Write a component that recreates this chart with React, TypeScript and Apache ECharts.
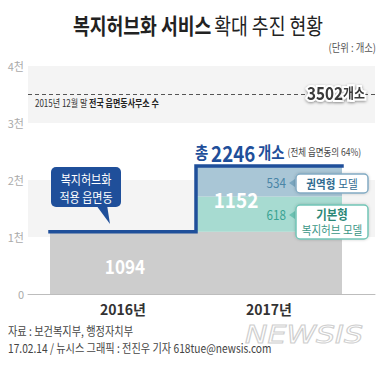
import React, { useEffect, useRef } from "react";
import * as echarts from "echarts";

const categories = ["2016년", "2017년"];
const baseValues = [1094, 1094];
const basicModel = [null, 618];
const regionalModel = [null, 534];
const nationalOffices = 3502;
const yTicks = [0, 1000, 2000, 3000, 4000];
const yTickLabels = ["0", "1천", "2천", "3천", "4천"];

const FONT = "Noto Sans CJK KR";

export default function App() {
  const ref = useRef<HTMLDivElement>(null);
  useEffect(() => {
    if (!ref.current) return;
    const chart = echarts.init(ref.current, null, { renderer: "svg" });
    const totals = categories.map(
      (_, i) => (baseValues[i] || 0) + (basicModel[i] || 0) + (regionalModel[i] || 0)
    );
    const stepData = [
      [0, totals[0]],
      [1, totals[0]],
      [1, totals[1]],
      [2, totals[1]],
    ];
    const addon = totals[1] - totals[0];
    const txt = (o: any) => ({ type: "text", z: 100, ...o });
    const outlined = (size: number) => ({
      fontSize: size,
      fontWeight: "bold",
      fill: "#3a3a3a",
      stroke: "#fff",
      lineWidth: 4,
      fontFamily: FONT,
      textShadowColor: "rgba(0,0,0,0.45)",
      textShadowBlur: 3,
      textShadowOffsetY: 1,
    });
    chart.setOption({
      animation: false,
      grid: [
        { left: 28, right: 15, top: 66, bottom: 76 },
        { left: 50, right: 48, top: 66, bottom: 76 },
      ],
      xAxis: [
        {
          gridIndex: 0,
          type: "value",
          min: 0,
          max: 1,
          axisLine: { show: true, lineStyle: { color: "#bdbdbd", width: 1 } },
          axisTick: { show: false },
          axisLabel: { show: false },
          splitLine: { show: false },
        },
        {
          gridIndex: 1,
          type: "category",
          data: categories,
          axisLine: { show: false },
          axisTick: { show: false },
          axisLabel: {
            color: "#333",
            fontSize: 14,
            fontWeight: "bold",
            fontFamily: FONT,
            margin: 8,
          },
        },
        {
          gridIndex: 1,
          type: "value",
          min: 0,
          max: 2,
          show: false,
        },
      ],
      yAxis: [
        {
          gridIndex: 0,
          type: "value",
          min: 0,
          max: 4000,
          interval: 1000,
          axisLine: { show: false },
          axisTick: { show: false },
          axisLabel: {
            color: "#aaa",
            fontSize: 11,
            fontFamily: FONT,
            margin: 4,
            formatter: (v: number) => yTickLabels[yTicks.indexOf(v)] ?? "",
          },
          splitLine: { show: false },
          splitArea: { show: true, areaStyle: { color: ["#ffffff", "#f4f4f4"] } },
        },
        { gridIndex: 1, type: "value", min: 0, max: 4000, show: false },
      ],
      series: [
        {
          type: "line",
          xAxisIndex: 0,
          yAxisIndex: 0,
          data: [],
          markLine: {
            silent: true,
            symbol: ["none", "none"],
            label: { show: false },
            lineStyle: { color: "#555", type: [4, 3], width: 1 },
            data: [{ yAxis: nationalOffices }],
          },
        },
        {
          type: "bar",
          xAxisIndex: 1,
          yAxisIndex: 1,
          stack: "t",
          barCategoryGap: "0%",
          data: baseValues,
          itemStyle: { color: "#cdcdcd" },
        },
        {
          type: "bar",
          xAxisIndex: 1,
          yAxisIndex: 1,
          stack: "t",
          data: basicModel,
          itemStyle: { color: "#a7dbd1" },
        },
        {
          type: "bar",
          xAxisIndex: 1,
          yAxisIndex: 1,
          stack: "t",
          data: regionalModel,
          itemStyle: { color: "#a9c6d6" },
        },
        {
          type: "line",
          xAxisIndex: 2,
          yAxisIndex: 1,
          data: stepData,
          symbol: "none",
          lineStyle: { color: "#1f4f9a", width: 3.5, cap: "square", join: "miter" },
          z: 10,
        },
      ],
      graphic: [
        txt({
          x: 198,
          y: 25,
          scaleX: 0.83,
          style: {
            text: "{b|복지허브화 서비스} {n|확대 추진 현황}",
            textAlign: "center",
            textVerticalAlign: "middle",
            rich: {
              b: { fontSize: 22, fontWeight: "bold", fill: "#222", fontFamily: FONT },
              n: { fontSize: 22, fill: "#222", fontFamily: FONT },
            },
          },
        }),
        txt({
          x: 376,
          y: 47,
          scaleX: 0.85,
          style: {
            text: "(단위 : 개소)",
            textAlign: "right",
            textVerticalAlign: "middle",
            fontSize: 11,
            fill: "#555",
            fontFamily: FONT,
          },
        }),
        txt({
          x: 35,
          y: 103,
          scaleX: 0.8,
          style: {
            text: "2015년 12월 말 {b|전국 읍면동사무소 수}",
            textVerticalAlign: "middle",
            fontSize: 10,
            fill: "#333",
            fontFamily: FONT,
            rich: { b: { fontSize: 10, fill: "#222", fontWeight: "bold", fontFamily: FONT } },
          },
        }),
        txt({
          x: 336,
          y: 92,
          scaleX: 0.85,
          style: {
            text: `{n|${nationalOffices}}{u|개소}`,
            textAlign: "center",
            textVerticalAlign: "middle",
            rich: {
              n: outlined(18),
              u: outlined(14),
            },
          },
        }),
        txt({
          x: 195,
          y: 152,
          scaleX: 0.85,
          style: {
            text: `{a|총} {b|${totals[1]}} {a|개소} {c|(전체 읍면동의 64%)}`,
            textVerticalAlign: "middle",
            rich: {
              a: { fontSize: 17, fontWeight: "bold", fill: "#1f4f9a", fontFamily: FONT },
              b: { fontSize: 22, fontWeight: "bold", fill: "#1f4f9a", fontFamily: FONT },
              c: { fontSize: 10, fill: "#444", fontFamily: FONT },
            },
          },
        }),
        txt({
          x: 125,
          y: 266,
          scaleX: 0.9,
          style: {
            text: String(baseValues[0]),
            textAlign: "center",
            textVerticalAlign: "middle",
            fontSize: 19,
            fontWeight: "bold",
            fill: "#fff",
            fontFamily: FONT,
            shadowColor: "rgba(0,0,0,0.3)",
            shadowBlur: 3,
          },
        }),
        txt({
          x: 236,
          y: 199,
          scaleX: 0.9,
          style: {
            text: String(addon),
            textAlign: "center",
            textVerticalAlign: "middle",
            fontSize: 21,
            fontWeight: "bold",
            fill: "#fff",
            fontFamily: FONT,
            shadowColor: "rgba(0,0,0,0.3)",
            shadowBlur: 3,
          },
        }),
        // callout
        {
          type: "polygon",
          z: 90,
          shape: { points: [[96, 205], [110, 224], [107, 205]] },
          style: { fill: "#1f4f9a" },
        },
        {
          type: "rect",
          z: 90,
          shape: { x: 51, y: 167, width: 70, height: 40, r: 5 },
          style: { fill: "#1f4f9a" },
        },
        txt({
          x: 86,
          y: 187,
          scaleX: 0.85,
          style: {
            text: "복지허브화\n적용 읍면동",
            textAlign: "center",
            textVerticalAlign: "middle",
            fontSize: 13,
            lineHeight: 18,
            fill: "#fff",
            fontFamily: FONT,
          },
        }),
        // regional model label
        {
          type: "polygon",
          z: 90,
          shape: { points: [[289, 183], [295, 179], [295, 187]] },
          style: { fill: "#7aa6bf" },
        },
        {
          type: "rect",
          z: 90,
          shape: { x: 296, y: 174, width: 72, height: 19, r: 4 },
          style: {
            fill: "#fff",
            stroke: "#82abc3",
            lineWidth: 1.5,
            shadowColor: "rgba(0,0,0,0.2)",
            shadowBlur: 3,
          },
        },
        txt({
          x: 286,
          y: 183,
          scaleX: 0.9,
          style: {
            text: String(regionalModel[1]),
            textAlign: "right",
            textVerticalAlign: "middle",
            fontSize: 13,
            fill: "#4a85a6",
            fontFamily: FONT,
          },
        }),
        txt({
          x: 332,
          y: 183.5,
          scaleX: 0.88,
          style: {
            text: "{b|권역형} {n|모델}",
            textAlign: "center",
            textVerticalAlign: "middle",
            rich: {
              b: { fontSize: 12, fontWeight: "bold", fill: "#2f6a90", fontFamily: FONT },
              n: { fontSize: 12, fill: "#2f6a90", fontFamily: FONT },
            },
          },
        }),
        // basic model label
        {
          type: "polygon",
          z: 90,
          shape: { points: [[289, 215], [295, 211], [295, 219]] },
          style: { fill: "#6cc2b2" },
        },
        {
          type: "rect",
          z: 90,
          shape: { x: 296, y: 205, width: 72, height: 34, r: 4 },
          style: {
            fill: "#fff",
            stroke: "#72c5b6",
            lineWidth: 1.5,
            shadowColor: "rgba(0,0,0,0.2)",
            shadowBlur: 3,
          },
        },
        txt({
          x: 286,
          y: 215,
          scaleX: 0.9,
          style: {
            text: String(basicModel[1]),
            textAlign: "right",
            textVerticalAlign: "middle",
            fontSize: 13,
            fill: "#3aa393",
            fontFamily: FONT,
          },
        }),
        txt({
          x: 332,
          y: 222,
          scaleX: 0.88,
          style: {
            text: "{b|기본형}\n{n|복지허브 모델}",
            textAlign: "center",
            textVerticalAlign: "middle",
            rich: {
              b: { fontSize: 13, fontWeight: "bold", fill: "#2b8777", fontFamily: FONT, lineHeight: 16 },
              n: { fontSize: 12, fill: "#3a9686", fontFamily: FONT, lineHeight: 16 },
            },
          },
        }),
        // footer
        txt({
          x: 245,
          y: 335,
          scaleX: 1.25,
          style: {
            text: "NEWSIS",
            textVerticalAlign: "middle",
            fontSize: 24,
            fontStyle: "italic",
            fontFamily: "DejaVu Sans",
            fill: "rgba(255,255,255,0)",
            stroke: "#cfcfcf",
            lineWidth: 1,
          },
        }),
        txt({
          x: 8,
          y: 331,
          scaleX: 0.85,
          style: {
            text: "자료 : 보건복지부, 행정자치부",
            textVerticalAlign: "middle",
            fontSize: 12,
            fill: "#444",
            fontFamily: FONT,
          },
        }),
        txt({
          x: 8,
          y: 348,
          scaleX: 0.85,
          style: {
            text: "17.02.14 / 뉴시스 그래픽 : 전진우 기자 618tue@newsis.com",
            textVerticalAlign: "middle",
            fontSize: 12,
            fill: "#444",
            fontFamily: FONT,
          },
        }),
      ],
    });
    return () => chart.dispose();
  }, []);
  return <div ref={ref} style={{ width: 390, height: 370, position: "absolute", left: 0, top: 0 }} />;
}
